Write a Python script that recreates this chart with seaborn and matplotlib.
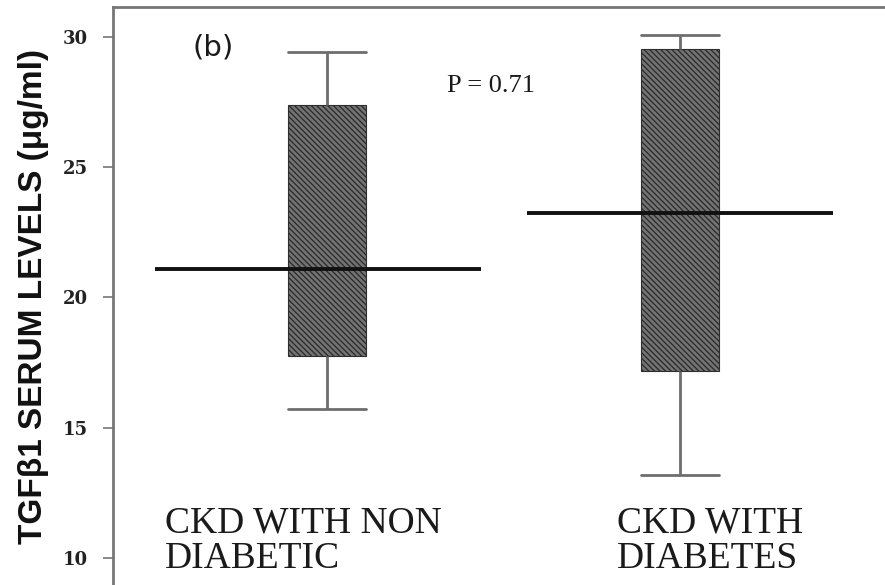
import numpy as np
import pandas as pd
import seaborn as sns
import matplotlib
matplotlib.use("Agg")
import matplotlib.pyplot as plt

# ---- data ----
groups = ["CKD WITH NON\nDIABETIC", "CKD WITH\nDIABETES"]
whisk_low = [15.73, 13.19]
q1 = [17.77, 17.19]
medians = [21.08, 23.23]
q3 = [27.38, 29.54]
whisk_high = [29.42, 30.08]
y_ticks = [10, 15, 20, 25, 30]
p_text = "P = 0.71"
panel = "(b)"
y_title = "TGFβ1 SERUM LEVELS (μg/ml)"

# five-number summaries -> five points per group (percentiles 0/25/50/75/100 reproduce them)
rows = []
for g, a, b, c, d, e in zip(groups, whisk_low, q1, medians, q3, whisk_high):
    for v in (a, b, c, d, e):
        rows.append({"group": g, "value": v})
df = pd.DataFrame(rows)

sns.set_style("white")
fig = plt.figure(figsize=(8.85, 5.85), dpi=100)
ax = fig.add_axes([0.1277, 0.0, 0.885, 0.988])

box_w = 0.22
sns.boxplot(data=df, x="group", y="value", order=groups, whis=(0, 100), width=box_w,
            color="#6e6e6e", linecolor="#6a6a6a", linewidth=2.0, showfliers=False,
            medianprops={"visible": False}, ax=ax)

for p in ax.patches:
    p.set_hatch("\\\\\\\\\\\\")
    p.set_edgecolor("#2e2e2e")
    p.set_facecolor("#747474")
    p.set_linewidth(0.8)

# widen caps to box width
for ln in ax.lines:
    xd = np.asarray(ln.get_xdata(), dtype=float)
    yd = np.asarray(ln.get_ydata(), dtype=float)
    if len(xd) == 2 and yd[0] == yd[1] and xd[0] != xd[1]:
        c = xd.mean()
        ln.set_xdata([c - box_w / 2, c + box_w / 2])
    ln.set_color("#6e6e6e")
    ln.set_linewidth(2.0)

# long median lines
pos = np.arange(len(groups))
med_left = [-0.487, -0.433]
med_right = [0.436, 0.433]
for i, m in enumerate(medians):
    ax.hlines(m, pos[i] + med_left[i], pos[i] + med_right[i], color="#111111",
              linewidth=2.8, zorder=5)

ax.set_xlim(-0.606, 1.612)
ax.set_ylim(8.96, 31.15)
ax.set_yticks(y_ticks)
ax.set_yticklabels([str(t) for t in y_ticks], fontsize=13, fontweight="bold",
                   family="DejaVu Serif", color="#222222")
ax.tick_params(axis="y", direction="out", length=7, width=1.2, color="#777777", pad=11, left=True)
ax.set_xticks([])
ax.set_xlabel("")
ax.set_ylabel(y_title, fontsize=24, fontweight="bold", family="Liberation Sans",
              color="#111111", labelpad=10)

for s in ("bottom", "right"):
    ax.spines[s].set_visible(False)
for s in ("left", "top"):
    ax.spines[s].set_color("#777777")
    ax.spines[s].set_linewidth(2.0)

serif = "Liberation Serif"
for i, g in enumerate(groups):
    xs = [-0.459, 0.82][i]
    ax.text(xs, 12.0, g, fontsize=27, family=serif, color="#1a1a1a",
            ha="left", va="top", linespacing=1.05)
ax.text(-0.38, 29.6, panel, fontsize=21, family="DejaVu Sans", color="#1a1a1a",
        ha="left", va="center")
ax.text(0.34, 28.1, p_text, fontsize=19, family=serif, color="#1a1a1a",
        ha="left", va="center")

fig.savefig("out.png", dpi=100)
